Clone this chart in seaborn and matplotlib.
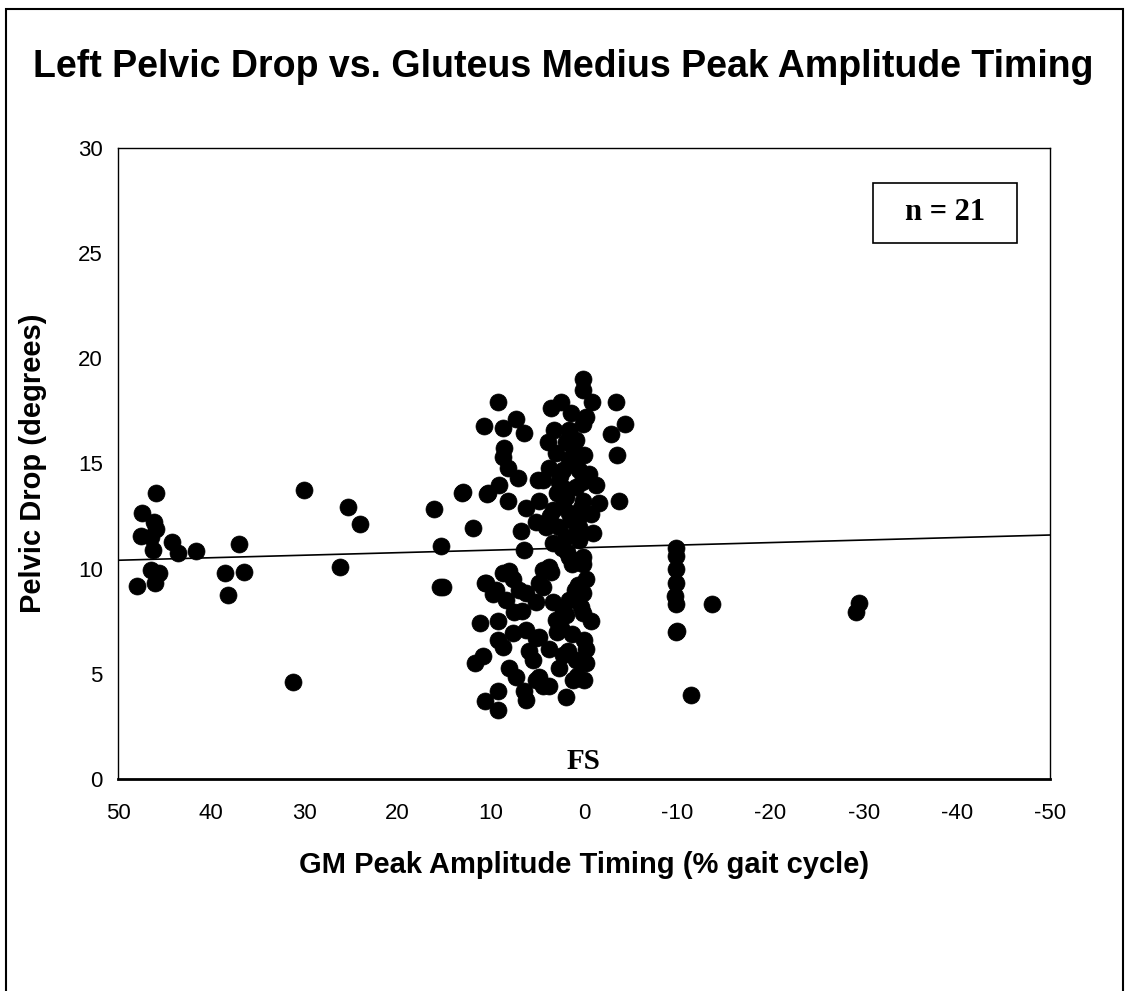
import numpy as np
import pandas as pd
import matplotlib
matplotlib.use("Agg")
import matplotlib.pyplot as plt
import seaborn as sns
from matplotlib.patches import Rectangle

# GM peak amplitude timing (% gait cycle) and left pelvic drop (degrees)
gm_timing = [
    # early group (30-50 % before FS)
    45.9, 47.4, 46.1, 45.9, 47.5, 46.5, 44.2, 46.2, 43.6, 41.6, 37.0, 46.5, 45.6, 48.0, 46.0,
    38.5, 36.5, 38.2, 30.0, 25.3, 24.0, 26.2, 31.2,
    # 10-16 %
    16.1, 15.3, 15.5, 15.1, 13.1, 11.9, 10.7, 9.2, 10.4, 11.2, 10.8, 11.7, 10.6, 9.2, 9.2, 10.6,
    # left column of main cluster, upper
    8.7, 7.3, 6.4, 8.6, 8.7, 8.2, 7.1, 9.1, 8.2, 10.3, 13.0, 4.9, 6.2, 6.8, 6.4, 5.2,
    # right column of main cluster, upper
    3.5, 2.5, 1.4, -0.2, 3.2, 1.6, 0.1, 3.9, 1.9, 0.9, 0.0, 3.0, 1.6, 3.8, 2.3, 0.5, -0.5,
    4.4, 2.7, 0.9, -1.3, 1.9, 0.1, 4.8, 3.3, 1.6, 0.5, 2.7, 4.1, 1.9, 0.5, 3.3, 0.1, 1.6, 3.8,
    -1.6, 0.1, 0.1, -0.9, 2.2, 1.2, 2.9, 0.6,
    1.0, 2.0, 0.3, 1.4, 2.4, 0.8, 1.8, -0.8, 2.6, 1.1, 0.2, 1.5, 3.6, -1.0, 2.8, 1.3,
    # right column, lower
    3.5, 0.1, -0.2, 4.4, 0.1, 1.6, 3.3, -0.75, 0.1, 3.0, 4.8, 0.0, -0.2, 1.7, 3.75, 0.9, -0.2,
    2.7, 4.8, 0.0, 3.75, 1.9, 1.2, 2.2, 1.0, 2.5, 0.4,
    0.6, 1.9, 2.9, 0.3, 1.3, 2.3, 0.8,
    # left column, lower
    8.7, 10.5, 9.4, 7.6, 7.0, 8.4, 6.2, 4.8, 5.2, 7.5, 9.2, 7.6, 9.2, 6.2, 5.2, 8.7, 5.9, 8.0,
    5.5, 7.3, 5.2, 6.4, 6.2, 4.4, 4.4, 8.0, 6.6, 9.8,
    # late group (after FS)
    -3.4, -4.4, -2.9, -3.5, -3.75,
    -9.9, -9.9, -9.9, -9.9, -9.8, -9.9, -9.9, -10.0, -13.7, -11.5, -29.2, -29.5,
]
pelvic_drop = [
    13.6, 12.65, 12.2, 11.9, 11.55, 11.5, 11.27, 10.9, 10.75, 10.84, 11.17, 9.94, 9.8, 9.18, 9.32,
    9.8, 9.84, 8.75, 13.74, 12.93, 12.1, 10.08, 4.6,
    12.84, 11.08, 9.13, 9.13, 13.6, 11.94, 16.8, 17.9, 13.55, 7.42, 5.85, 5.5, 3.7, 4.2, 3.3, 9.3,
    16.7, 17.1, 16.45, 15.75, 15.3, 14.8, 14.3, 14.0, 13.2, 13.6, 13.65, 14.2, 12.9, 11.8, 10.9, 12.2,
    17.65, 17.9, 17.4, 17.2, 16.6, 16.6, 16.9, 16.0, 16.0, 16.1, 15.4, 15.5, 15.2, 14.8, 14.7, 14.7, 14.5,
    14.2, 14.1, 13.9, 14.0, 13.4, 13.2, 13.2, 12.8, 12.65, 12.0, 12.0, 12.0, 11.5, 11.35, 11.2, 10.55, 10.55, 10.1,
    13.1, 19.0, 18.5, 17.9, 13.0, 15.8, 13.6, 12.4,
    15.0, 13.8, 12.9, 12.3, 11.0, 11.8, 10.8, 12.6, 14.4, 15.6, 14.1, 16.3, 12.5, 11.7, 13.6, 10.2,
    9.85, 10.2, 9.5, 9.15, 8.85, 8.5, 8.4, 7.5, 7.9, 7.55, 6.75, 6.6, 6.2, 6.1, 6.2, 5.65, 5.5,
    5.3, 4.85, 4.7, 4.4, 3.9, 4.7, 8.0, 9.0, 7.2, 10.3,
    9.2, 7.8, 7.0, 8.2, 6.9, 5.9, 4.9,
    9.8, 9.3, 9.0, 9.5, 9.0, 8.5, 8.85, 9.3, 8.4, 7.95, 7.5, 6.95, 6.6, 7.1, 6.7, 6.3, 6.1, 5.3,
    5.65, 4.85, 4.7, 4.2, 3.75, 4.4, 9.95, 9.9, 8.0, 8.8,
    17.9, 16.9, 16.4, 15.4, 13.2,
    11.0, 10.6, 10.0, 9.3, 8.7, 8.3, 7.0, 7.05, 8.3, 4.0, 7.95, 8.35,
]

# linear trend line as drawn on the chart
fit_intercept = 11.0
fit_slope = -0.012

x_ticks = [50, 40, 30, 20, 10, 0, -10, -20, -30, -40, -50]
y_ticks = [0, 5, 10, 15, 20, 25, 30]

df = pd.DataFrame({"timing": gm_timing, "drop": pelvic_drop})
fit = pd.DataFrame({"timing": [x_ticks[0], x_ticks[-1]]})
fit["drop"] = fit_intercept + fit_slope * fit["timing"]

sns.set_style("white")
plt.rcParams["font.family"] = ["Liberation Sans", "DejaVu Sans"]
plt.rcParams["text.color"] = "black"
plt.rcParams["axes.labelcolor"] = "black"
plt.rcParams["xtick.color"] = "black"
plt.rcParams["ytick.color"] = "black"

fig = plt.figure(figsize=(11.26, 9.91), dpi=100)
ax = fig.add_axes([0.1048, 0.2139, 0.8277, 0.6368])

sns.scatterplot(data=df, x="timing", y="drop", ax=ax, s=150, color="black",
                edgecolor="black", linewidth=0.5, zorder=3)
sns.lineplot(data=fit, x="timing", y="drop", ax=ax, color="black", lw=1.2, zorder=2)

ax.set_xlim(50, -50)
ax.set_ylim(0, 30)
ax.set_xticks(x_ticks)
ax.set_yticks(y_ticks)
ax.set_xticklabels([str(t) for t in x_ticks])
ax.tick_params(axis="both", labelsize=16, direction="out")
ax.tick_params(axis="x", length=8, width=1, pad=9)
ax.tick_params(axis="y", length=5, width=1, pad=6)
for s in ax.spines.values():
    s.set_color("black")
    s.set_linewidth(1)
ax.spines["bottom"].set_linewidth(2)

ax.set_xlabel("GM Peak Amplitude Timing (% gait cycle)", fontsize=21, fontweight="bold", labelpad=20)
ax.set_ylabel("Pelvic Drop (degrees)", fontsize=21, fontweight="bold", labelpad=22)

fig.text(0.5, 0.932, "Left Pelvic Drop vs. Gluteus Medius Peak Amplitude Timing",
         ha="center", va="center", fontsize=27, fontweight="bold")

ax.text(0, 0.85, "FS", ha="center", va="center", fontsize=21, fontweight="bold",
        family=["Liberation Serif", "DejaVu Serif"])

ax.add_patch(Rectangle((0.810, 0.850), 0.1545, 0.094, transform=ax.transAxes,
                       fill=False, edgecolor="black", lw=1.2))
ax.text(0.887, 0.898, "n = 21", transform=ax.transAxes, ha="center", va="center",
        fontsize=22, fontweight="bold", family=["Liberation Serif", "DejaVu Serif"])

# outer frame of the figure
fig.patches.append(Rectangle((0.005, -0.05), 0.992, 1.041, transform=fig.transFigure,
                             fill=False, edgecolor="black", lw=1.5))

fig.savefig("out.png", dpi=100)
